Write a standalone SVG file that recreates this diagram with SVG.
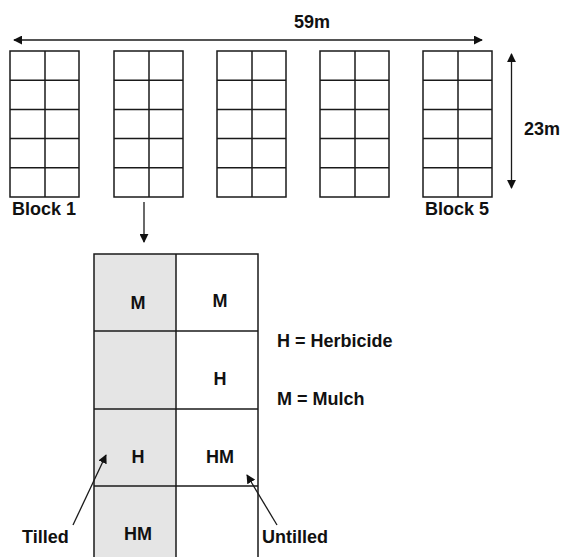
<svg xmlns="http://www.w3.org/2000/svg" width="563" height="557" viewBox="0 0 563 557">
<style>
.g{fill:none;stroke:#1a1a1a;stroke-width:1.5}
.t{font-family:"Liberation Sans",Arial,sans-serif;font-weight:bold;font-size:18px;fill:#111}
.c{text-anchor:middle}
.a{fill:none;stroke:#1a1a1a;stroke-width:1.3}
</style>
<defs>
<marker id="ah" viewBox="0 0 10 10" refX="9" refY="5" markerWidth="9" markerHeight="9" markerUnits="userSpaceOnUse" orient="auto-start-reverse">
<path d="M0,0 L10,5 L0,10 z" fill="#111"/>
</marker>
<g id="blk">
<rect x="0" y="0" width="69" height="146" class="g"/>
<line x1="35" y1="0" x2="35" y2="146" class="g"/>
<line x1="0" y1="29.2" x2="69" y2="29.2" class="g"/>
<line x1="0" y1="58.4" x2="69" y2="58.4" class="g"/>
<line x1="0" y1="87.6" x2="69" y2="87.6" class="g"/>
<line x1="0" y1="116.8" x2="69" y2="116.8" class="g"/>
</g>
</defs>
<rect width="563" height="557" fill="#fff"/>
<g id="block1"><use href="#blk" x="10" y="51"/><text class="t" x="12" y="215">Block 1</text></g>
<g id="block2"><use href="#blk" x="114" y="51"/></g>
<g id="block3"><use href="#blk" x="217" y="51"/></g>
<g id="block4"><use href="#blk" x="320" y="51"/></g>
<g id="block5"><use href="#blk" x="423" y="51"/><text class="t" x="425" y="215">Block 5</text></g>
<g id="dims">
<text class="t c" x="312" y="28">59m</text>
<text class="t" x="524" y="135">23m</text>
</g>
<g id="detail">
<rect x="94" y="254" width="82" height="310" fill="#e5e5e5"/>
<path d="M94,564 V254 H258 V564" class="g"/>
<line x1="176" y1="254" x2="176" y2="564" class="g"/>
<line x1="94" y1="331" x2="258" y2="331" class="g"/>
<line x1="94" y1="409" x2="258" y2="409" class="g"/>
<line x1="94" y1="486" x2="258" y2="486" class="g"/>
<text class="t c" x="138" y="309">M</text>
<text class="t c" x="220" y="307">M</text>
<text class="t c" x="220" y="385">H</text>
<text class="t c" x="138" y="463">H</text>
<text class="t c" x="220" y="463">HM</text>
<text class="t c" x="138" y="540">HM</text>
</g>
<g id="legend">
<text class="t" x="277" y="347">H = Herbicide</text>
<text class="t" x="277" y="405">M = Mulch</text>
</g>
<g id="labels">
<text class="t" x="22" y="543">Tilled</text>
<text class="t" x="262" y="543">Untilled</text>
</g>
<g id="connectors">
<line x1="14" y1="40" x2="482" y2="40" class="a" marker-start="url(#ah)" marker-end="url(#ah)"/>
<line x1="511.5" y1="54" x2="511.5" y2="188" class="a" marker-start="url(#ah)" marker-end="url(#ah)"/>
<line x1="144" y1="202" x2="144" y2="242" class="a" marker-end="url(#ah)"/>
<line x1="73" y1="525" x2="106" y2="455" class="a" marker-end="url(#ah)"/>
<line x1="277" y1="525" x2="247" y2="475" class="a" marker-end="url(#ah)"/>
</g>
</svg>
